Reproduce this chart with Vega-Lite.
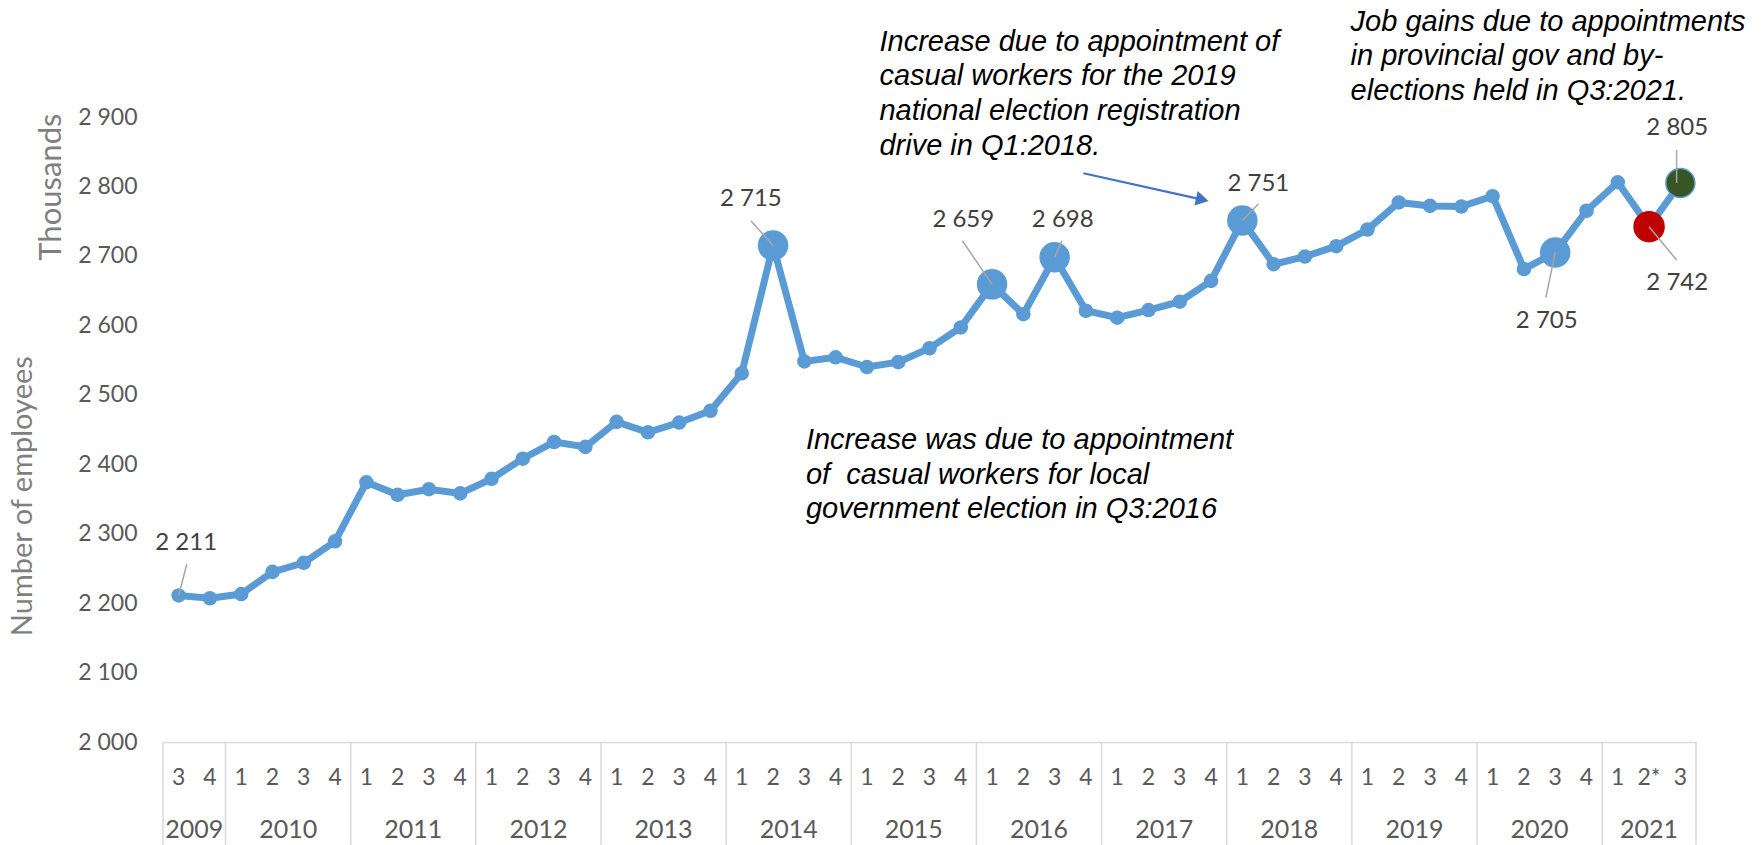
{
  "$schema": "https://vega.github.io/schema/vega-lite/v6.json",
  "width": 1533,
  "height": 625,
  "autosize": {"type": "none"},
  "padding": {"left": 163, "top": 117, "right": 66, "bottom": 103},
  "background": "white",
  "config": {
    "view": {"stroke": null},
    "locale": {"number": {"decimal": ".", "thousands": " ", "grouping": [3], "currency": ["", ""]}}
  },
  "datasets": {
    "quarters": [
      {"idx": 0, "year": "2009", "q": "3", "value": 2211, "status": "normal"},
      {"idx": 1, "year": "2009", "q": "4", "value": 2207, "status": "normal"},
      {"idx": 2, "year": "2010", "q": "1", "value": 2213, "status": "normal"},
      {"idx": 3, "year": "2010", "q": "2", "value": 2245, "status": "normal"},
      {"idx": 4, "year": "2010", "q": "3", "value": 2258, "status": "normal"},
      {"idx": 5, "year": "2010", "q": "4", "value": 2289, "status": "normal"},
      {"idx": 6, "year": "2011", "q": "1", "value": 2374, "status": "normal"},
      {"idx": 7, "year": "2011", "q": "2", "value": 2356, "status": "normal"},
      {"idx": 8, "year": "2011", "q": "3", "value": 2364, "status": "normal"},
      {"idx": 9, "year": "2011", "q": "4", "value": 2358, "status": "normal"},
      {"idx": 10, "year": "2012", "q": "1", "value": 2379, "status": "normal"},
      {"idx": 11, "year": "2012", "q": "2", "value": 2408, "status": "normal"},
      {"idx": 12, "year": "2012", "q": "3", "value": 2432, "status": "normal"},
      {"idx": 13, "year": "2012", "q": "4", "value": 2425, "status": "normal"},
      {"idx": 14, "year": "2013", "q": "1", "value": 2461, "status": "normal"},
      {"idx": 15, "year": "2013", "q": "2", "value": 2446, "status": "normal"},
      {"idx": 16, "year": "2013", "q": "3", "value": 2460, "status": "normal"},
      {"idx": 17, "year": "2013", "q": "4", "value": 2477, "status": "normal"},
      {"idx": 18, "year": "2014", "q": "1", "value": 2531, "status": "normal"},
      {"idx": 19, "year": "2014", "q": "2", "value": 2715, "status": "peak"},
      {"idx": 20, "year": "2014", "q": "3", "value": 2548, "status": "normal"},
      {"idx": 21, "year": "2014", "q": "4", "value": 2554, "status": "normal"},
      {"idx": 22, "year": "2015", "q": "1", "value": 2540, "status": "normal"},
      {"idx": 23, "year": "2015", "q": "2", "value": 2547, "status": "normal"},
      {"idx": 24, "year": "2015", "q": "3", "value": 2567, "status": "normal"},
      {"idx": 25, "year": "2015", "q": "4", "value": 2597, "status": "normal"},
      {"idx": 26, "year": "2016", "q": "1", "value": 2659, "status": "peak"},
      {"idx": 27, "year": "2016", "q": "2", "value": 2616, "status": "normal"},
      {"idx": 28, "year": "2016", "q": "3", "value": 2698, "status": "peak"},
      {"idx": 29, "year": "2016", "q": "4", "value": 2621, "status": "normal"},
      {"idx": 30, "year": "2017", "q": "1", "value": 2611, "status": "normal"},
      {"idx": 31, "year": "2017", "q": "2", "value": 2622, "status": "normal"},
      {"idx": 32, "year": "2017", "q": "3", "value": 2634, "status": "normal"},
      {"idx": 33, "year": "2017", "q": "4", "value": 2664, "status": "normal"},
      {"idx": 34, "year": "2018", "q": "1", "value": 2751, "status": "peak"},
      {"idx": 35, "year": "2018", "q": "2", "value": 2688, "status": "normal"},
      {"idx": 36, "year": "2018", "q": "3", "value": 2699, "status": "normal"},
      {"idx": 37, "year": "2018", "q": "4", "value": 2714, "status": "normal"},
      {"idx": 38, "year": "2019", "q": "1", "value": 2738, "status": "normal"},
      {"idx": 39, "year": "2019", "q": "2", "value": 2777, "status": "normal"},
      {"idx": 40, "year": "2019", "q": "3", "value": 2772, "status": "normal"},
      {"idx": 41, "year": "2019", "q": "4", "value": 2771, "status": "normal"},
      {"idx": 42, "year": "2020", "q": "1", "value": 2786, "status": "normal"},
      {"idx": 43, "year": "2020", "q": "2", "value": 2681, "status": "normal"},
      {"idx": 44, "year": "2020", "q": "3", "value": 2705, "status": "peak"},
      {"idx": 45, "year": "2020", "q": "4", "value": 2765, "status": "normal"},
      {"idx": 46, "year": "2021", "q": "1", "value": 2806, "status": "normal"},
      {"idx": 47, "year": "2021", "q": "2*", "value": 2742, "status": "decline"},
      {"idx": 48, "year": "2021", "q": "3", "value": 2805, "status": "latest"}
    ],
    "yearEdges": [
      {"edge": -0.5}, {"edge": 1.5}, {"edge": 5.5}, {"edge": 9.5}, {"edge": 13.5},
      {"edge": 17.5}, {"edge": 21.5}, {"edge": 25.5}, {"edge": 29.5}, {"edge": 33.5},
      {"edge": 37.5}, {"edge": 41.5}, {"edge": 45.5}, {"edge": 48.5}
    ]
  },
  "layer": [
    {
      "data": {"name": "quarters"},
      "mark": {"type": "line", "color": "#5b9bd5", "strokeWidth": 7},
      "encoding": {
        "x": {
          "field": "idx", "type": "quantitative",
          "scale": {"domain": [-0.5, 48.5], "nice": false, "zero": false},
          "axis": {"title": null, "labels": false, "ticks": false, "grid": false, "domain": true, "domainColor": "#d9d9d9", "domainWidth": 1.5}
        },
        "y": {
          "field": "value", "type": "quantitative",
          "scale": {"domain": [2000, 2900], "nice": false, "zero": false},
          "axis": {
            "title": null, "values": [2000, 2100, 2200, 2300, 2400, 2500, 2600, 2700, 2800, 2900],
            "labelExpr": "replace(format(datum.value, ',d'), ',', ' ')",
            "grid": false, "domain": false, "ticks": false, "labelPadding": 26,
            "labelFont": "Lato", "labelFontSize": 23, "labelColor": "#595959"
          }
        }
      }
    },
    {
      "data": {"name": "yearEdges"},
      "mark": {"type": "rule", "color": "#d9d9d9", "strokeWidth": 1.5},
      "encoding": {
        "x": {"field": "edge", "type": "quantitative"},
        "y": {"datum": 2000, "type": "quantitative"},
        "y2": {"datum": 1852}
      }
    },
    {
      "data": {"name": "quarters"},
      "mark": {"type": "point", "filled": true, "opacity": 1, "strokeWidth": 1.5},
      "encoding": {
        "x": {"field": "idx", "type": "quantitative"},
        "y": {"field": "value", "type": "quantitative"},
        "size": {"field": "status", "type": "nominal", "legend": null,
          "scale": {"type": "ordinal", "domain": ["normal", "peak", "decline", "latest"], "range": [170, 841, 900, 841]}},
        "color": {"field": "status", "type": "nominal", "legend": null,
          "scale": {"domain": ["normal", "peak", "decline", "latest"], "range": ["#5b9bd5", "#5b9bd5", "#c00000", "#375623"]}},
        "stroke": {"field": "status", "type": "nominal", "legend": null,
          "scale": {"domain": ["normal", "peak", "decline", "latest"], "range": ["#5b9bd5", "#5b9bd5", "#c00000", "#5b9bd5"]}}
      }
    },
    {
      "data": {"name": "quarters"},
      "mark": {"type": "text", "font": "Lato", "fontSize": 23, "color": "#595959", "baseline": "middle", "align": "center"},
      "encoding": {
        "x": {"field": "idx", "type": "quantitative"},
        "y": {"datum": 1948.7, "type": "quantitative"},
        "text": {"field": "q"}
      }
    },
    {
      "data": {"name": "quarters"},
      "transform": [{"aggregate": [{"op": "mean", "field": "idx", "as": "mid"}], "groupby": ["year"]}],
      "mark": {"type": "text", "font": "Lato", "fontSize": 25, "color": "#595959", "baseline": "middle", "align": "center"},
      "encoding": {
        "x": {"field": "mid", "type": "quantitative"},
        "y": {"datum": 1874, "type": "quantitative"},
        "text": {"field": "year"}
      }
    },
    {
      "data": {"name": "quarters"},
      "transform": [{"filter": "datum.idx == 0"}],
      "layer": [
        {"mark": {"type": "rule", "color": "#a6a6a6", "strokeWidth": 1.5},
         "encoding": {"x": {"field": "idx", "type": "quantitative"}, "y": {"field": "value", "type": "quantitative"}, "x2": {"datum": 0.26}, "y2": {"datum": 2256}}},
        {"mark": {"type": "text", "font": "Lato", "fontSize": 24, "color": "#404040", "baseline": "middle", "align": "center"},
         "encoding": {"x": {"datum": 0.24, "type": "quantitative"}, "y": {"datum": 2286, "type": "quantitative"}, "text": {"field": "value", "type": "quantitative", "format": ","}}}
      ]
    },
    {
      "data": {"name": "quarters"},
      "transform": [{"filter": "datum.idx == 19"}],
      "layer": [
        {"mark": {"type": "rule", "color": "#a6a6a6", "strokeWidth": 1.5},
         "encoding": {"x": {"field": "idx", "type": "quantitative"}, "y": {"field": "value", "type": "quantitative"}, "x2": {"datum": 18.29}, "y2": {"datum": 2750.7}}},
        {"mark": {"type": "text", "font": "Lato", "fontSize": 24, "color": "#404040", "baseline": "middle", "align": "center"},
         "encoding": {"x": {"datum": 18.29, "type": "quantitative"}, "y": {"datum": 2781.5, "type": "quantitative"}, "text": {"field": "value", "type": "quantitative", "format": ","}}}
      ]
    },
    {
      "data": {"name": "quarters"},
      "transform": [{"filter": "datum.idx == 26"}],
      "layer": [
        {"mark": {"type": "rule", "color": "#a6a6a6", "strokeWidth": 1.5},
         "encoding": {"x": {"field": "idx", "type": "quantitative"}, "y": {"field": "value", "type": "quantitative"}, "x2": {"datum": 25.05}, "y2": {"datum": 2721.9}}},
        {"mark": {"type": "text", "font": "Lato", "fontSize": 24, "color": "#404040", "baseline": "middle", "align": "center"},
         "encoding": {"x": {"datum": 25.08, "type": "quantitative"}, "y": {"datum": 2751.7, "type": "quantitative"}, "text": {"field": "value", "type": "quantitative", "format": ","}}}
      ]
    },
    {
      "data": {"name": "quarters"},
      "transform": [{"filter": "datum.idx == 28"}],
      "layer": [
        {"mark": {"type": "rule", "color": "#a6a6a6", "strokeWidth": 1.5},
         "encoding": {"x": {"field": "idx", "type": "quantitative"}, "y": {"field": "value", "type": "quantitative"}, "x2": {"datum": 28.23}, "y2": {"datum": 2721.9}}},
        {"mark": {"type": "text", "font": "Lato", "fontSize": 24, "color": "#404040", "baseline": "middle", "align": "center"},
         "encoding": {"x": {"datum": 28.26, "type": "quantitative"}, "y": {"datum": 2751.7, "type": "quantitative"}, "text": {"field": "value", "type": "quantitative", "format": ","}}}
      ]
    },
    {
      "data": {"name": "quarters"},
      "transform": [{"filter": "datum.idx == 34"}],
      "layer": [
        {"mark": {"type": "rule", "color": "#a6a6a6", "strokeWidth": 1.5},
         "encoding": {"x": {"field": "idx", "type": "quantitative"}, "y": {"field": "value", "type": "quantitative"}, "x2": {"datum": 34.51}, "y2": {"datum": 2774.8}}},
        {"mark": {"type": "text", "font": "Lato", "fontSize": 24, "color": "#404040", "baseline": "middle", "align": "center"},
         "encoding": {"x": {"datum": 34.51, "type": "quantitative"}, "y": {"datum": 2803, "type": "quantitative"}, "text": {"field": "value", "type": "quantitative", "format": ","}}}
      ]
    },
    {
      "data": {"name": "quarters"},
      "transform": [{"filter": "datum.idx == 44"}],
      "layer": [
        {"mark": {"type": "rule", "color": "#a6a6a6", "strokeWidth": 1.5},
         "encoding": {"x": {"field": "idx", "type": "quantitative"}, "y": {"field": "value", "type": "quantitative"}, "x2": {"datum": 43.7}, "y2": {"datum": 2639.8}}},
        {"mark": {"type": "text", "font": "Lato", "fontSize": 24, "color": "#404040", "baseline": "middle", "align": "center"},
         "encoding": {"x": {"datum": 43.73, "type": "quantitative"}, "y": {"datum": 2606.7, "type": "quantitative"}, "text": {"field": "value", "type": "quantitative", "format": ","}}}
      ]
    },
    {
      "data": {"name": "quarters"},
      "transform": [{"filter": "datum.idx == 47"}],
      "layer": [
        {"mark": {"type": "rule", "color": "#a6a6a6", "strokeWidth": 1.5},
         "encoding": {"x": {"field": "idx", "type": "quantitative"}, "y": {"field": "value", "type": "quantitative"}, "x2": {"datum": 47.88}, "y2": {"datum": 2694.1}}},
        {"mark": {"type": "text", "font": "Lato", "fontSize": 24, "color": "#404040", "baseline": "middle", "align": "center"},
         "encoding": {"x": {"datum": 47.9, "type": "quantitative"}, "y": {"datum": 2661.4, "type": "quantitative"}, "text": {"field": "value", "type": "quantitative", "format": ","}}}
      ]
    },
    {
      "data": {"name": "quarters"},
      "transform": [{"filter": "datum.idx == 48"}],
      "layer": [
        {"mark": {"type": "rule", "color": "#a6a6a6", "strokeWidth": 1.5},
         "encoding": {"x": {"datum": 47.88, "type": "quantitative"}, "y": {"field": "value", "type": "quantitative"}, "y2": {"datum": 2852.5}}},
        {"mark": {"type": "text", "font": "Lato", "fontSize": 24, "color": "#404040", "baseline": "middle", "align": "center"},
         "encoding": {"x": {"datum": 47.9, "type": "quantitative"}, "y": {"datum": 2883.8, "type": "quantitative"}, "text": {"field": "value", "type": "quantitative", "format": ","}}}
      ]
    },
    {
      "data": {"values": [{"note": "arrow"}]},
      "mark": {"type": "rule", "color": "#4472c4", "strokeWidth": 2.2},
      "encoding": {
        "x": {"datum": 28.92, "type": "quantitative"},
        "y": {"datum": 2819, "type": "quantitative"},
        "x2": {"datum": 32.72},
        "y2": {"datum": 2781}
      }
    },
    {
      "data": {"values": [{"note": "arrowhead"}]},
      "mark": {"type": "point", "shape": "triangle-right", "filled": true, "opacity": 1, "color": "#4472c4", "size": 220, "angle": 12.5},
      "encoding": {
        "x": {"datum": 32.72, "type": "quantitative"},
        "y": {"datum": 2781, "type": "quantitative"}
      }
    },
    {
      "data": {"values": [{"note": "Increase due to appointment of\ncasual workers for the 2019\nnational election registration\ndrive in Q1:2018."}]},
      "mark": {"type": "text", "font": "Liberation Sans", "fontStyle": "italic", "fontSize": 29, "color": "#000000", "align": "left", "baseline": "top", "lineBreak": "\n", "lineHeight": 34.7},
      "encoding": {
        "x": {"datum": 22.4, "type": "quantitative"},
        "y": {"datum": 3028.6, "type": "quantitative"},
        "text": {"field": "note"}
      }
    },
    {
      "data": {"values": [{"note": "Job gains due to appointments\nin provincial gov and by-\nelections held in Q3:2021."}]},
      "mark": {"type": "text", "font": "Liberation Sans", "fontStyle": "italic", "fontSize": 29, "color": "#000000", "align": "left", "baseline": "top", "lineBreak": "\n", "lineHeight": 34.7},
      "encoding": {
        "x": {"datum": 37.46, "type": "quantitative"},
        "y": {"datum": 3057.5, "type": "quantitative"},
        "text": {"field": "note"}
      }
    },
    {
      "data": {"values": [{"note": "Increase was due to appointment\nof \u00a0casual workers for local\ngovernment election in Q3:2016"}]},
      "mark": {"type": "text", "font": "Liberation Sans", "fontStyle": "italic", "fontSize": 29, "color": "#000000", "align": "left", "baseline": "top", "lineBreak": "\n", "lineHeight": 34.7},
      "encoding": {
        "x": {"datum": 20.05, "type": "quantitative"},
        "y": {"datum": 2455.1, "type": "quantitative"},
        "text": {"field": "note"}
      }
    },
    {
      "data": {"values": [{"note": "Thousands"}]},
      "mark": {"type": "text", "font": "Lato", "fontSize": 31, "color": "#7f7f7f", "align": "center", "baseline": "middle", "angle": 270},
      "encoding": {
        "x": {"datum": -4.04, "type": "quantitative"},
        "y": {"datum": 2799, "type": "quantitative"},
        "text": {"field": "note"}
      }
    },
    {
      "data": {"values": [{"note": "Number of employees"}]},
      "mark": {"type": "text", "font": "Lato", "fontSize": 29, "color": "#7f7f7f", "align": "center", "baseline": "middle", "angle": 270},
      "encoding": {
        "x": {"datum": -4.99, "type": "quantitative"},
        "y": {"datum": 2354, "type": "quantitative"},
        "text": {"field": "note"}
      }
    }
  ]
}
